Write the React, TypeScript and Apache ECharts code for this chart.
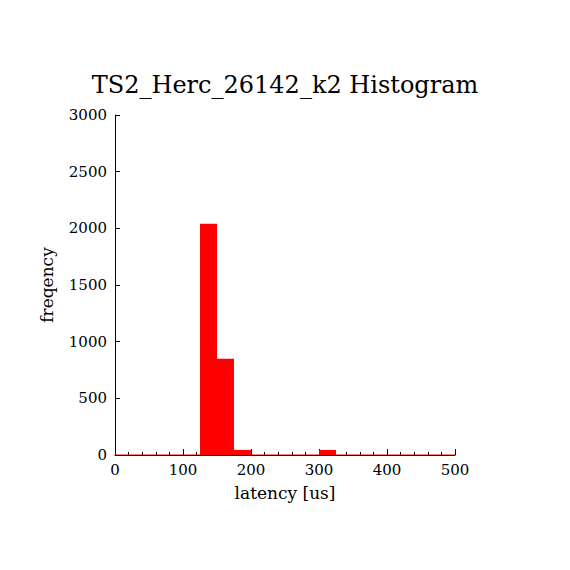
import React, { useEffect, useRef } from "react";
import * as echarts from "echarts";

const titleText = "TS2_Herc_26142_k2 Histogram";
const xLabel = "latency [us]";
const yLabel = "freqency";
const binWidth = 25;
const binStarts = [125, 150, 175, 300];
const binCounts = [2040, 850, 45, 45];
const xRange = [0, 500];
const yRange = [0, 3000];

const FONT = "DejaVu Serif";

export default function App() {
  const ref = useRef<HTMLDivElement>(null);
  useEffect(() => {
    document.body.style.margin = "0";
    const chart = echarts.init(ref.current!, null, { renderer: "svg" });
    const data = binStarts.map((s, i) => [s, s + binWidth, binCounts[i]]);
    chart.setOption({
      animation: false,
      backgroundColor: "#fff",
      title: {
        text: titleText,
        left: "center",
        top: 68,
        textStyle: { fontFamily: FONT, fontSize: 24, fontWeight: "normal", color: "#000" },
      },
      grid: { left: 115, right: 115, top: 115, bottom: 115, containLabel: false },
      xAxis: {
        type: "value",
        min: xRange[0],
        max: xRange[1],
        interval: 100,
        name: xLabel,
        nameLocation: "middle",
        nameGap: 29,
        nameTextStyle: { fontFamily: FONT, fontSize: 17, color: "#000" },
        axisLine: { show: true, lineStyle: { color: "#000", width: 1 } },
        axisTick: { show: true, inside: true, length: 6, lineStyle: { color: "#000" } },
        minorTick: { show: true, splitNumber: 5, length: 3, lineStyle: { color: "#000" } },
        axisLabel: { fontFamily: FONT, fontSize: 15, color: "#000", margin: 7 },
        splitLine: { show: false },
      },
      yAxis: {
        type: "value",
        min: yRange[0],
        max: yRange[1],
        interval: 500,
        name: yLabel,
        nameLocation: "middle",
        nameGap: 60,
        nameTextStyle: { fontFamily: FONT, fontSize: 17, color: "#000" },
        axisLine: { show: true, lineStyle: { color: "#000", width: 1 } },
        axisTick: { show: true, inside: true, length: 5, lineStyle: { color: "#000" } },
        axisLabel: {
          fontFamily: FONT,
          fontSize: 15,
          color: "#000",
          margin: 8,
          formatter: (v: number) => String(v),
        },
        splitLine: { show: false },
      },
      series: [
        {
          type: "custom",
          data,
          encode: { x: [0, 1], y: 2 },
          renderItem: (params: any, api: any) => {
            const p0 = api.coord([api.value(0), api.value(2)]);
            const p1 = api.coord([api.value(1), 0]);
            return {
              type: "rect",
              shape: { x: p0[0], y: p0[1], width: p1[0] - p0[0], height: p1[1] - p0[1] },
              style: { fill: "#ff0000", stroke: "none" },
            };
          },
          z: 3,
        },
        {
          type: "line",
          data: [[xRange[0], 0], [xRange[1], 0]],
          symbol: "none",
          lineStyle: { color: "#ff0000", width: 1 },
          z: 4,
        },
      ],
    });
    return () => chart.dispose();
  }, []);
  return <div ref={ref} style={{ width: 570, height: 570 }} />;
}
